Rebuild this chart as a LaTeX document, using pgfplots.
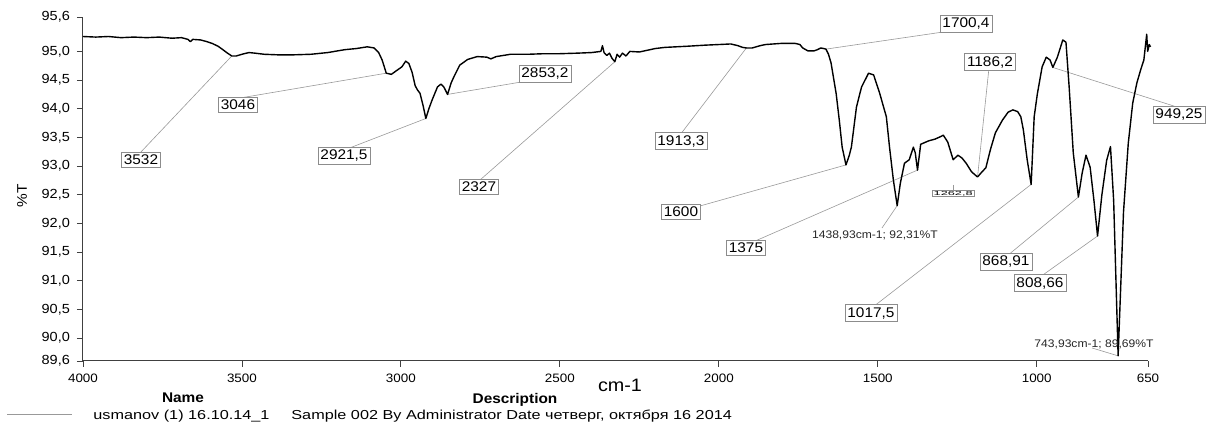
\documentclass[border=0pt]{standalone}
\usepackage{fontspec}
\setmainfont[FakeStretch=1.1]{Liberation Sans}
\newfontfamily\widefont[FakeStretch=1.25]{Liberation Sans}
\usepackage{pgfplots}
\pgfplotsset{compat=1.18}
\usepackage{pgfplotstable}

% IR spectrum: wavenumber (cm-1) vs transmittance (%T)
\pgfplotstableread{
wn T
4000 95.26
3960 95.25
3920 95.26
3880 95.24
3840 95.25
3800 95.24
3760 95.25
3720 95.23
3690 95.24
3670 95.21
3662 95.17
3655 95.21
3630 95.20
3610 95.17
3594 95.14
3575 95.09
3560 95.03
3548 94.98
3532 94.92
3518 94.92
3500 94.95
3478 94.98
3460 94.97
3430 94.95
3385 94.94
3340 94.94
3283 94.95
3230 94.98
3177 95.03
3140 95.05
3106 95.08
3084 95.06
3070 94.98
3059 94.85
3046 94.62
3030 94.60
3015 94.66
2997 94.73
2985 94.83
2975 94.79
2965 94.64
2955 94.40
2948 94.33
2940 94.27
2930 94.05
2921.5 93.83
2912 94.00
2902 94.15
2885 94.38
2874 94.43
2865 94.38
2853.2 94.25
2842 94.45
2833 94.56
2815 94.76
2790 94.86
2760 94.91
2730 94.90
2717 94.87
2700 94.91
2655 94.95
2600 94.95
2550 94.96
2500 94.96
2443 94.97
2400 94.98
2371 95.00
2366 95.10
2361 94.98
2352 94.93
2344 94.97
2336 94.88
2327 94.82
2320 94.95
2312 94.90
2303 94.97
2292 94.92
2280 95.00
2250 94.99
2200 95.05
2170 95.07
2100 95.09
2040 95.11
2000 95.12
1962 95.13
1940 95.10
1925 95.07
1913.3 95.06
1895 95.06
1870 95.10
1853 95.12
1803 95.14
1760 95.14
1745 95.12
1736 95.06
1720 95.01
1700.4 95.01
1690 95.03
1679 95.06
1670 95.05
1663 95.04
1655 94.95
1647 94.80
1638 94.50
1631 94.27
1621 93.80
1612 93.33
1600 93.02
1590 93.18
1583 93.33
1567 94.03
1551 94.38
1529 94.62
1513 94.59
1494 94.27
1473 93.86
1463 93.33
1451 92.76
1438.93 92.31
1429 92.70
1416 93.05
1401 93.11
1388 93.33
1382 93.23
1375 92.93
1365 93.38
1340 93.44
1320 93.47
1300 93.52
1294 93.54
1280 93.42
1262.8 93.11
1248 93.19
1235 93.14
1222 93.05
1205 92.90
1186.2 92.81
1172 92.90
1160 92.97
1145 93.30
1130 93.58
1108 93.80
1090 93.94
1075 93.98
1060 93.95
1050 93.86
1042 93.63
1030 93.11
1017.5 92.68
1008 93.86
998 94.26
983 94.73
970 94.90
958 94.85
949.25 94.72
935 94.90
918 95.20
908 95.16
898 94.38
885 93.23
868.91 92.46
857 92.88
845 93.19
832 92.98
820 92.40
808.66 91.78
795 92.50
780 93.10
768 93.34
758 92.40
743.93 89.69
727 92.20
712 93.40
698 94.10
685 94.45
673 94.68
663 94.85
654 95.30
651 95.00
646 95.12
642 95.08
}\spectrum

\tikzset{
  pk/.style={draw=black!45, line width=0.3pt, fill=white, inner xsep=1.2pt,
    inner ysep=1.3pt, font=\fontsize{7}{8}\selectfont},
  ld/.style={black!40, line width=0.3pt},
}

\begin{document}
\begin{tikzpicture}
\begin{axis}[
  at={(41.5pt,31pt)}, anchor=south west,
  scale only axis, width=532.5pt, height=172pt,
  x dir=reverse, xmin=650, xmax=4000, ymin=89.6, ymax=95.6,
  axis x line*=bottom, axis y line*=left,
  axis line style={black!75, line width=0.5pt},
  xtick={4000,3500,3000,2500,2000,1500,1000,650},
  ytick={89.6,90,90.5,91,91.5,92,92.5,93,93.5,94,94.5,95,95.6},
  tick align=outside, major tick length=3pt,
  tick style={black!75, line width=0.4pt},
  /pgf/number format/assume math mode=true,
  xticklabel style={font=\fontsize{6.1}{7}\selectfont,
    /pgf/number format/1000 sep={}},
  yticklabel style={font=\fontsize{6.6}{7}\selectfont,
    /pgf/number format/fixed, /pgf/number format/fixed zerofill,
    /pgf/number format/precision=1, /pgf/number format/use comma},
  clip=false,
]
% leader lines from the picked peaks to their labels
\draw[ld] (axis cs:3532,94.92) -- (axis cs:3820.7,93.228);
\draw[ld] (axis cs:3046,94.62) -- (axis cs:3506.2,94.187);
\draw[ld] (axis cs:2921.5,93.83) -- (axis cs:3169.6,93.298);
\draw[ld] (axis cs:2853.2,94.25) -- (axis cs:2584.5,94.501);
\draw[ld] (axis cs:2327,94.82) -- (axis cs:2751.2,92.757);
\draw[ld] (axis cs:1913.3,95.06) -- (axis cs:2122.1,93.542);
\draw[ld] (axis cs:1663,95.04) -- (axis cs:1272.8,95.356);
\draw[ld] (axis cs:1186.2,92.81) -- (axis cs:1150.2,94.710);
\draw[ld] (axis cs:949.25,94.72) -- (axis cs:549.3,94.013);
\draw[ld] (axis cs:1600,93.02) -- (axis cs:2059.2,92.304);
\draw[ld] (axis cs:1375,92.93) -- (axis cs:1892.5,91.676);
\draw[ld] (axis cs:1438.93,92.31) -- (axis cs:1486.7,91.920);
\draw[ld] (axis cs:1262.8,92.67) -- (axis cs:1262.8,92.565);
\draw[ld] (axis cs:1017.5,92.68) -- (axis cs:1515.1,90.542);
\draw[ld] (axis cs:868.91,92.46) -- (axis cs:1093.6,91.431);
\draw[ld] (axis cs:808.66,91.78) -- (axis cs:989.7,91.065);
\draw[ld] (axis cs:743.93,89.69) -- (axis cs:826.1,89.827);

\addplot[black, line width=0.7pt, line join=round] table[x=wn, y=T] {\spectrum};

% peak labels
\node[pk] at (axis cs:3817.6,93.106) {3532};
\node[pk] at (axis cs:3512.4,94.065) {3046};
\node[pk] at (axis cs:3179.0,93.176) {2921,5};
\node[pk] at (axis cs:2546.8,94.606) {2853,2};
\node[pk] at (axis cs:2754.4,92.635) {2327};
\node[pk] at (axis cs:2119.0,93.437) {1913,3};
\node[pk] at (axis cs:1222.5,95.478) {1700,4};
\node[pk] at (axis cs:1147.0,94.815) {1186,2};
\node[pk] at (axis cs:552.5,93.891) {949,25};
\node[pk] at (axis cs:2119.0,92.199) {1600};
\node[pk] at (axis cs:1914.5,91.571) {1375};
\node[pk] at (axis cs:1521.4,90.437) {1017,5};
\node[pk] at (axis cs:1096.7,91.327) {868,91};
\node[pk] at (axis cs:989.7,90.960) {808,66};
\node[pk, inner xsep=0.8pt, inner ysep=0.4pt, line width=0.25pt]
  at (axis cs:1262.8,92.521) {\scalebox{1}[0.5]{\fontsize{5.8}{6}\selectfont 1262,8}};
\node[font=\fontsize{5.5}{6}\selectfont, inner sep=0pt, text=black!85]
  at (axis cs:1508.8,91.798) {1438,93cm-1; 92,31\%T};
\node[font=\fontsize{5.5}{6}\selectfont, inner sep=0pt, text=black!85]
  at (axis cs:819.8,89.897) {743,93cm-1; 89,69\%T};
\end{axis}

% axis titles and sample information
\node[font=\fontsize{9}{10}\selectfont] at (310pt,19pt) {cm-1};
\node[rotate=90, font=\fontsize{7}{8}\selectfont] at (11pt,113.5pt) {\%T};
\node[anchor=base, inner sep=0pt, font=\bfseries\fontsize{7}{8}\selectfont] at (91.5pt,10pt) {Name};
\node[anchor=base, inner sep=0pt, font=\bfseries\fontsize{7}{8}\selectfont] at (257.5pt,9.5pt) {Description};
\draw[black!40, line width=0.5pt] (3.5pt,4pt) -- (36pt,4pt);
\node[anchor=base west, inner sep=0pt, font=\widefont\fontsize{6.5}{7}\selectfont]
  at (46.5pt,1.6pt) {usmanov (1) 16.10.14\_1};
\node[anchor=base west, inner sep=0pt, font=\widefont\fontsize{6.5}{7}\selectfont]
  at (145.5pt,1.6pt) {Sample 002 By Administrator Date четверг, октября 16 2014};

\pgfresetboundingbox
\useasboundingbox (0pt,0pt) rectangle (603pt,211.5pt);
\end{tikzpicture}
\end{document}
